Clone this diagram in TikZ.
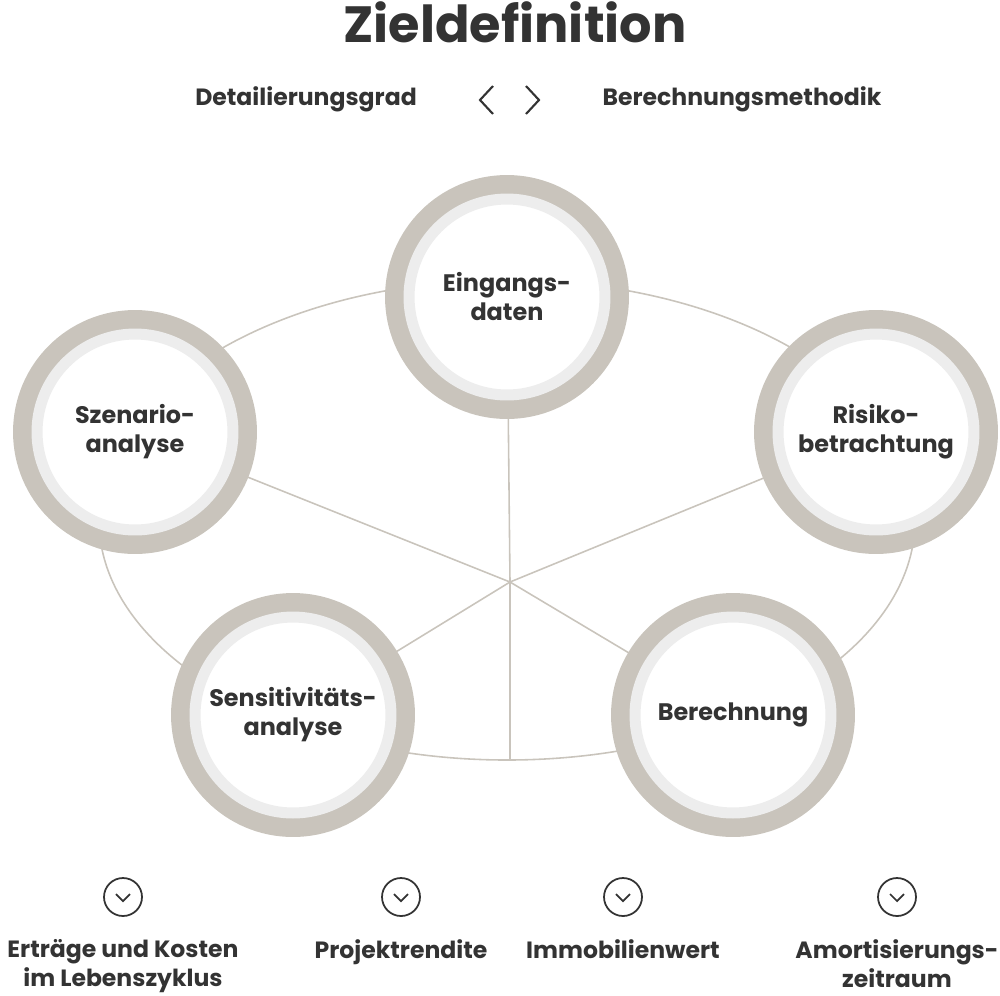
\documentclass[tikz,border=0pt]{standalone}
\usepackage{fontspec}
\setmainfont{Poppins}
\definecolor{ringdark}{HTML}{C9C4BC}
\definecolor{ringlight}{HTML}{EDEDED}
\definecolor{ink}{HTML}{333333}
\begin{document}
\begin{tikzpicture}[x=0.02cm,y=-0.02cm,
% common options for the big circles:
ring/.style = {circle, draw=ringdark, line width=0.38cm, fill=white,
            minimum size=4.5cm, align=center, font=\bfseries\fontsize{13.6}{16.5}\selectfont,
            text=ink, inner sep=0},
inring/.style = {circle, draw=ringlight, line width=0.22cm, minimum size=3.92cm},
% common options for the labels:
lbl/.style = {align=center, font=\bfseries\fontsize{13.4}{16.5}\selectfont, text=ink},
link/.style = {draw=ringdark, line width=0.9pt},
pick/.style = {circle, draw=ink, line width=1pt, minimum size=0.76cm, inner sep=0}]
\useasboundingbox (0,0) rectangle (1000,995);
\node[font=\bfseries\fontsize{29}{34}\selectfont, text=ink] (title) at (515,22) {Zieldefinition};
\node[lbl] (detail) at (306,99) {Detailierungsgrad};
\node[lbl] (method) at (742,99) {Berechnungsmethodik};
\draw[ink, line width=1.2pt] (493,86) -- (480,100) -- (493,114);
\draw[ink, line width=1.2pt] (526,86) -- (539,100) -- (526,114);
% connectors behind the circles
\coordinate (hub) at (510,582);
\draw[link] (507,520) ellipse [x radius=408, y radius=240];
\draw[link] (hub) -- (507,297);
\draw[link] (hub) -- (135,432);
\draw[link] (hub) -- (876,432);
\draw[link] (hub) -- (293,715);
\draw[link] (hub) -- (733,715);
\draw[link] (hub) -- (510,760);
% circles
\node[ring] (input) at (507,297) {Eingangs-\\daten};
\node[ring] (scen) at (135,432) {Szenario-\\analyse};
\node[ring] (risk) at (876,432) {Risiko-\\betrachtung};
\node[ring] (sens) at (293,715) {Sensitivitäts-\\analyse};
\node[ring] (calc) at (733,715) {Berechnung};
\foreach \n in {input,scen,risk,sens,calc}
  \node[inring] at (\n) {};
% results
\foreach \x/\t/\name in {123/{Erträge und Kosten\\im Lebenszyklus}/r1,
    401/{Projektrendite}/r2, 623/{Immobilienwert}/r3,
    897/{Amortisierungs-\\zeitraum}/r4} {
  \node[pick] (\name) at (\x,897) {};
  \draw[ink, line width=1pt] ([shift={(-7,-3)}]\name.center) -- ([shift={(0,4)}]\name.center) -- ([shift={(7,-3)}]\name.center);
  \node[lbl, anchor=north] (\name t) at (\x,933) {\t};
}
\end{tikzpicture}
\end{document}
